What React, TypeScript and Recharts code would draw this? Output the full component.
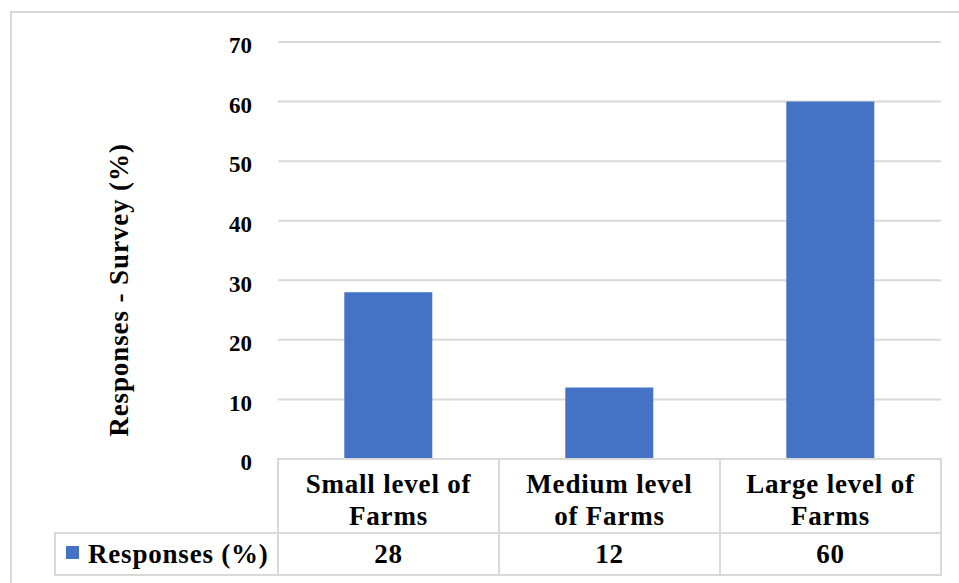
import React from "react"
import { BarChart, Bar, XAxis, YAxis, CartesianGrid } from "recharts"

const categories = ["Small level of Farms", "Medium level of Farms", "Large level of Farms"]
const categoryLines = [
  ["Small level of", "Farms"],
  ["Medium level", "of Farms"],
  ["Large level of", "Farms"],
]
const responses = [28, 12, 60]
const yTicks = [0, 10, 20, 30, 40, 50, 60, 70]
const seriesName = "Responses (%)"
const yTitle = "Responses - Survey (%)"

const data = categories.map((c, i) => ({ category: c, value: responses[i] }))

const W = 959
const H = 583
const margin = { top: 42, right: 18, left: 58, bottom: 0 }
const Y_AXIS_W = 220
const X_AXIS_H = 124
const plotLeft = margin.left + Y_AXIS_W
const plotRight = W - margin.right
const band = (plotRight - plotLeft) / categories.length

const FONT = "'Liberation Serif', 'Times New Roman', serif"
const GRID = "#d9d9d9"
const BLUE = "#4472c4"

// table text, slightly spaced out to get closer to the Garamond widths
const textStyle = { fontFamily: FONT, fontWeight: 700, fontSize: 27, fill: "#000", letterSpacing: 0.8 }

function YTick(props: any) {
  const { x, y, payload } = props
  return (
    <text x={x} y={y + 6} textAnchor="end" dominantBaseline="middle"
      style={{ fontFamily: FONT, fontWeight: 700, fontSize: 23, fill: "#000" }}>
      {payload.value}
    </text>
  )
}

function TableTick(props: any) {
  const { x, y, payload } = props
  const i = categories.indexOf(payload.value)
  const top = y - 8
  const mid = top + 74
  const bottom = top + 116
  const left = x - band / 2
  return (
    <g>
      <rect x={left} y={top} width={band} height={bottom - top} fill="none" stroke={GRID} strokeWidth={2} />
      <line x1={left} x2={left + band} y1={mid} y2={mid} stroke={GRID} strokeWidth={2} />
      <text x={x} y={top + 28} textAnchor="middle" dominantBaseline="middle" style={textStyle}>
        {categoryLines[i][0]}
      </text>
      <text x={x} y={top + 60} textAnchor="middle" dominantBaseline="middle" style={textStyle}>
        {categoryLines[i][1]}
      </text>
      <text x={x} y={top + 98} textAnchor="middle" dominantBaseline="middle" style={textStyle}>
        {responses[i]}
      </text>
      {i === 0 && (
        <g>
          <rect x={55} y={mid} width={left - 55} height={bottom - mid} fill="none" stroke={GRID} strokeWidth={2} />
          <rect x={66} y={mid + 13} width={13} height={13} fill={BLUE} />
          <text x={88} y={mid + 24} dominantBaseline="middle" style={textStyle}>
            {seriesName}
          </text>
        </g>
      )}
    </g>
  )
}

function YTitle() {
  return (
    <text x={122} y={290} transform="rotate(-90 122 290)" textAnchor="middle" dominantBaseline="middle"
      style={{ ...textStyle, letterSpacing: 0.9 }}>
      {yTitle}
    </text>
  )
}

export default function App() {
  return (
    <div style={{ position: "absolute", left: 0, top: 0, width: W, height: H, overflow: "hidden", background: "#fff" }}>
      <div style={{ position: "absolute", left: 10, top: 11, width: 1000, height: 700, border: `2px solid ${GRID}` }} />
      <div style={{ position: "absolute", left: 0, top: 0 }}>
        <BarChart width={W} height={H} data={data} margin={margin} barCategoryGap="30%">
          <CartesianGrid vertical={false} stroke={GRID} strokeWidth={2} />
          <XAxis dataKey="category" axisLine={false} tickLine={false} interval={0} height={X_AXIS_H} tick={<TableTick />} />
          <YAxis domain={[0, 70]} ticks={yTicks} axisLine={false} tickLine={false} width={Y_AXIS_W}
            tickMargin={20} tick={<YTick />} label={<YTitle />} />
          <Bar dataKey="value" name={seriesName} fill={BLUE} isAnimationActive={false} />
        </BarChart>
      </div>
    </div>
  )
}
